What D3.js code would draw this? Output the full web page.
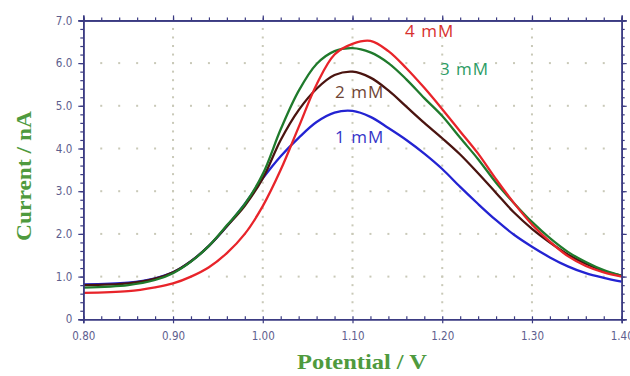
<!DOCTYPE html>
<html>
<head>
<meta charset="utf-8">
<script src="https://cdn.jsdelivr.net/npm/d3@7"></script>
<style>
  body { margin: 0; background: #fff; }
  svg { display: block; }
</style>
</head>
<body>
<script>
// potential (V), shared by all four scans
const potential = [0.80, 0.85, 0.88, 0.90, 0.92, 0.94, 0.96, 0.98, 1.00, 1.02, 1.04, 1.06, 1.08, 1.10,
                   1.12, 1.14, 1.16, 1.18, 1.20, 1.22, 1.24, 1.26, 1.28, 1.30, 1.32, 1.34, 1.36, 1.38, 1.40];

// current (nA)
const i1mM = [0.82, 0.86, 0.96, 1.10, 1.36, 1.72, 2.18, 2.70, 3.30, 3.82, 4.25, 4.62, 4.84, 4.88,
              4.74, 4.48, 4.20, 3.88, 3.52, 3.10, 2.70, 2.32, 1.98, 1.70, 1.45, 1.24, 1.08, 0.97, 0.88];
const i2mM = [0.80, 0.84, 0.95, 1.10, 1.36, 1.72, 2.18, 2.66, 3.30, 4.20, 4.90, 5.40, 5.72, 5.80,
              5.66, 5.36, 4.98, 4.60, 4.24, 3.86, 3.42, 2.96, 2.50, 2.12, 1.80, 1.52, 1.30, 1.13, 1.02];
const i3mM = [0.74, 0.80, 0.92, 1.08, 1.35, 1.72, 2.20, 2.70, 3.40, 4.45, 5.35, 5.98, 6.28, 6.35,
              6.25, 6.00, 5.62, 5.18, 4.76, 4.25, 3.75, 3.20, 2.72, 2.28, 1.90, 1.58, 1.34, 1.15, 1.02];
const i4mM = [0.62, 0.66, 0.75, 0.84, 1.00, 1.22, 1.55, 2.00, 2.65, 3.50, 4.50, 5.50, 6.20, 6.45,
              6.52, 6.28, 5.88, 5.42, 4.92, 4.40, 3.88, 3.28, 2.72, 2.22, 1.82, 1.48, 1.25, 1.10, 1.00];

const seriesNames = ["1 mM", "2 mM", "3 mM", "4 mM"];
const seriesValues = [i1mM, i2mM, i3mM, i4mM];
const lineColors = ["#2323d2", "#4a1410", "#1f7a2c", "#e8242a"];
const labelColors = ["#3535c8", "#6e4434", "#2c9c64", "#d8302e"];
// label anchor points in data units
const labelPos = [[1.0806, 4.13], [1.0806, 5.18], [1.1975, 5.72], [1.1586, 6.62]];

const xTicks = [0.80, 0.90, 1.00, 1.10, 1.20, 1.30, 1.40];
const yTicks = [0, 1, 2, 3, 4, 5, 6, 7];

const W = 630, H = 376;
const margin = {left: 83.3, right: 8.3, top: 20.4, bottom: 56.7};
const width = W - margin.left - margin.right;
const height = H - margin.top - margin.bottom;

const svg = d3.select("body").append("svg")
  .attr("width", W)
  .attr("height", H);

const g = svg.append("g")
  .attr("transform", "translate(" + margin.left + "," + margin.top + ")");

const x = d3.scaleLinear().domain([0.8, 1.4]).range([0, width]);
const y = d3.scaleLinear().domain([0, 7]).range([height, 0]);

const axisColor = "#3b3b82";
const gridColor = "#c9c9b8";

// dotted grid: dots sit on the minor tick positions
const xMinor = d3.range(0, 31).map(k => 0.8 + k * 0.02);
const yMinor = d3.range(0, 36).map(k => k * 0.2);

const grid = g.append("g").attr("class", "grid");
yTicks.slice(1, -1).forEach(v => {
  grid.selectAll(null).data(xMinor.slice(1, -1)).enter().append("rect")
    .attr("x", d => x(d) - 1).attr("y", y(v) - 1)
    .attr("width", 2).attr("height", 2)
    .attr("fill", gridColor);
});
xTicks.slice(1, -1).forEach(v => {
  grid.selectAll(null).data(yMinor.slice(1, -1)).enter().append("rect")
    .attr("x", x(v) - 1).attr("y", d => y(d) - 1)
    .attr("width", 2).attr("height", 2)
    .attr("fill", gridColor);
});

// curves
const line = d3.line()
  .x((d, i) => x(potential[i]))
  .y(d => y(d))
  .curve(d3.curveCatmullRom.alpha(0.5));

g.selectAll(".curve")
  .data(seriesValues)
  .enter().append("path")
  .attr("class", "curve")
  .attr("d", d => line(d))
  .attr("fill", "none")
  .attr("stroke", (d, i) => lineColors[i])
  .attr("stroke-width", 2.3);

// minor ticks
function minor(axis, ticks, size) {
  return axis.tickValues(ticks).tickSize(size).tickFormat("");
}
g.append("g").attr("transform", "translate(0," + height + ")")
  .call(minor(d3.axisTop(x), xMinor, 3));
g.append("g").call(minor(d3.axisTop(x), xMinor, 3));
g.append("g").call(minor(d3.axisLeft(y), yMinor, 3));
g.append("g").attr("transform", "translate(" + width + ",0)")
  .call(minor(d3.axisRight(y), yMinor, 3));

// major ticks with labels
const fmtX = d3.format(".2f");
g.append("g").attr("transform", "translate(0," + height + ")")
  .call(d3.axisBottom(x).tickValues(xTicks).tickSize(4).tickPadding(9).tickFormat(fmtX));
g.append("g")
  .call(d3.axisLeft(y).tickValues(yTicks).tickSize(5).tickPadding(6)
    .tickFormat(d => d === 0 ? "0" : d3.format(".1f")(d)));
g.append("g").call(d3.axisTop(x).tickValues(xTicks).tickSize(5).tickFormat(""));
g.append("g").attr("transform", "translate(" + width + ",0)")
  .call(d3.axisRight(y).tickValues(yTicks).tickSize(5).tickFormat(""));

g.selectAll(".domain").attr("stroke", axisColor).attr("stroke-width", 1.6);
g.selectAll(".tick line").attr("stroke", axisColor).attr("stroke-width", 1.2);
g.selectAll(".tick text")
  .attr("fill", "#5e5e8e")
  .style("font-family", "'Liberation Sans Narrow', 'DejaVu Sans Condensed', sans-serif")
  .style("font-size", "11.5px");

// series labels
g.selectAll(".lbl")
  .data(seriesNames)
  .enter().append("text")
  .attr("class", "lbl")
  .attr("x", (d, i) => x(labelPos[i][0]))
  .attr("y", (d, i) => y(labelPos[i][1]))
  .attr("fill", (d, i) => labelColors[i])
  .style("font-family", "'Open Sans', sans-serif")
  .style("font-size", "17px")
  .style("letter-spacing", "1px")
  .text(d => d);

// axis titles
svg.append("text")
  .attr("x", 297)
  .attr("y", 369)
  .attr("textLength", 130)
  .attr("lengthAdjust", "spacingAndGlyphs")
  .attr("fill", "#4f9a3e")
  .style("font-family", "'Liberation Serif', serif")
  .style("font-weight", "bold")
  .style("font-size", "21px")
  .text("Potential / V");

svg.append("text")
  .attr("transform", "translate(31,241) rotate(-90)")
  .attr("textLength", 130)
  .attr("lengthAdjust", "spacingAndGlyphs")
  .attr("fill", "#4f9a3e")
  .style("font-family", "'Liberation Serif', serif")
  .style("font-weight", "bold")
  .style("font-size", "21px")
  .text("Current / nA");
</script>
</body>
</html>
